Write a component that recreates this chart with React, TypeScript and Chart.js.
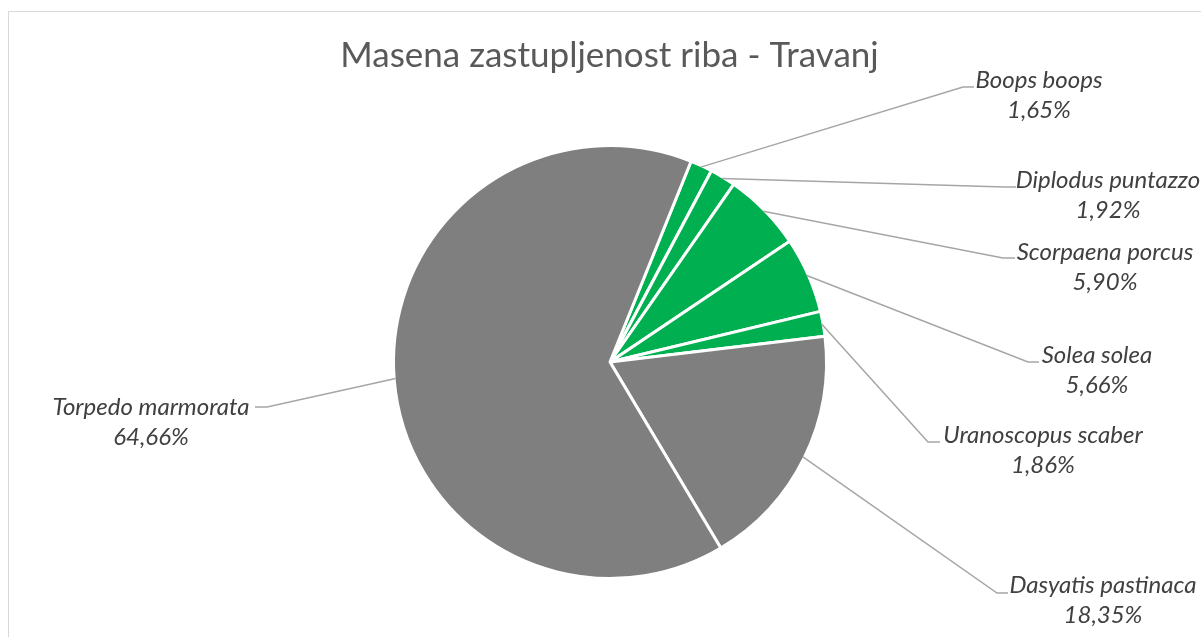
import React, { useEffect, useRef } from 'react';
import { Chart, registerables } from 'chart.js';

Chart.register(...registerables);

const TITLE = 'Masena zastupljenost riba - Travanj';
const species = [
  'Boops boops',
  'Diplodus puntazzo',
  'Scorpaena porcus',
  'Solea solea',
  'Uranoscopus scaber',
  'Dasyatis pastinaca',
  'Torpedo marmorata',
];
const shares = [1.65, 1.92, 5.9, 5.66, 1.86, 18.35, 64.66];
const GREEN = '#00B050';
const GREY = '#7F7F7F';
const sliceColors = [GREEN, GREEN, GREEN, GREEN, GREEN, GREY, GREY];

// label layout (text centre x, first-line baseline y)
const labelCenterX = [1039, 1108, 1105, 1097, 1043, 1103, 151];
const labelBaseY = [88, 188, 260, 363, 443, 593, 415];
// leader line: elbow point and end of the short horizontal segment
const leaderElbow: [number, number][] = [
  [963, 87], [1004, 187], [1003, 258], [1028, 362], [928, 442], [997, 593], [267, 407],
];
const leaderEndX = [974, 1016, 1015, 1039, 940, 1008, 255];

const FONT = 'Lato, "Open Sans", sans-serif';
const LABEL_SIZE = 24;
const LINE_GAP = 29.5;
const TITLE_SIZE = 35;

const fmt = (v: number) => v.toFixed(2).replace('.', ',') + '%';

const decorPlugin = {
  id: 'decor',
  beforeDraw(chart: any) {
    const ctx = chart.ctx;
    ctx.save();
    ctx.fillStyle = '#FFFFFF';
    ctx.fillRect(0, 0, chart.width, chart.height);
    ctx.strokeStyle = '#D9D9D9';
    ctx.lineWidth = 1;
    ctx.strokeRect(8.5, 11.5, chart.width + 50, chart.height + 50);
    ctx.restore();
  },
  afterDraw(chart: any) {
    const ctx = chart.ctx;
    const meta = chart.getDatasetMeta(0);
    ctx.save();
    // title
    ctx.fillStyle = '#595959';
    ctx.font = `${TITLE_SIZE}px ${FONT}`;
    ctx.textAlign = 'center';
    ctx.textBaseline = 'alphabetic';
    ctx.fillText(TITLE, 609.5, 67);

    meta.data.forEach((arc: any, i: number) => {
      const p = arc.getProps(['x', 'y', 'startAngle', 'endAngle', 'outerRadius'], true);
      const mid = (p.startAngle + p.endAngle) / 2;
      const r = p.outerRadius - 1.5;
      const sx = p.x + Math.cos(mid) * r;
      const sy = p.y + Math.sin(mid) * r;
      const [ex, ey] = leaderElbow[i];
      ctx.strokeStyle = '#A6A6A6';
      ctx.lineWidth = 1.5;
      ctx.beginPath();
      ctx.moveTo(sx, sy);
      ctx.lineTo(ex, ey);
      ctx.lineTo(leaderEndX[i], ey);
      ctx.stroke();

      ctx.fillStyle = '#404040';
      ctx.font = `italic ${LABEL_SIZE}px ${FONT}`;
      ctx.textAlign = 'center';
      ctx.textBaseline = 'alphabetic';
      ctx.fillText(species[i], labelCenterX[i], labelBaseY[i]);
      ctx.fillText(fmt(shares[i]), labelCenterX[i], labelBaseY[i] + LINE_GAP);
    });
    ctx.restore();
  },
};

export default function App() {
  const ref = useRef<HTMLCanvasElement>(null);
  useEffect(() => {
    if (!ref.current) return;
    const chart = new Chart(ref.current, {
      type: 'pie',
      data: {
        labels: species,
        datasets: [
          {
            data: shares,
            backgroundColor: sliceColors,
            borderColor: '#FFFFFF',
            borderWidth: 3,
            hoverOffset: 0,
            offset: 0,
          },
        ],
      },
      options: {
        responsive: false,
        animation: false,
        devicePixelRatio: 1,
        rotation: 22,
        layout: { padding: { left: 392, top: 144, right: 373, bottom: 57 } },
        plugins: {
          legend: { display: false },
          title: { display: false },
          tooltip: { enabled: false },
        },
        events: [],
      },
      plugins: [decorPlugin],
    });
    return () => chart.destroy();
  }, []);
  return (
    <div style={{ position: 'fixed', left: 0, top: 0, width: 1201, height: 637 }}>
      <canvas ref={ref} width={1201} height={637} />
    </div>
  );
}
